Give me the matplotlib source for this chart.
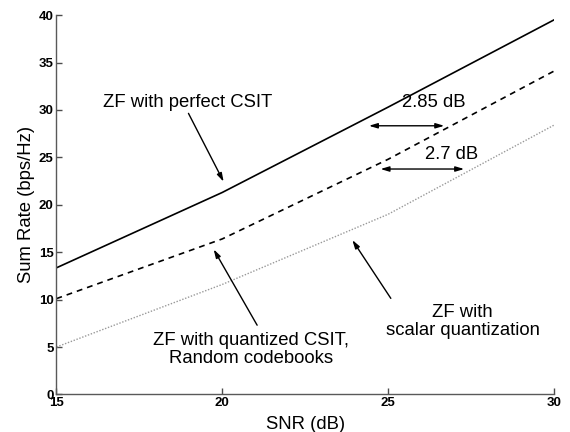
import matplotlib
matplotlib.use("Agg")
import matplotlib.pyplot as plt

# SNR points (dB) and sum rates (bps/Hz)
snr_db = [15, 20, 25, 30]
rate_perfect = [13.35, 21.3, 30.3, 39.5]
rate_random_cb = [10.1, 16.4, 24.8, 34.1]
rate_scalar = [5.0, 11.6, 19.0, 28.4]

x_ticks = [15, 20, 25, 30]
y_ticks = [0, 5, 10, 15, 20, 25, 30, 35, 40]

plt.rcParams["font.family"] = ["Liberation Sans", "DejaVu Sans"]

fig = plt.figure(figsize=(5.7, 4.32), dpi=100)
ax = fig.add_axes([0.099, 0.087, 0.873, 0.878])

ax.plot(snr_db, rate_perfect, color="black", linestyle="-", linewidth=1.2)
ax.plot(snr_db, rate_random_cb, color="black", linestyle=(0, (3.5, 3)), linewidth=1.2)
ax.plot(snr_db, rate_scalar, color="0.6", linestyle=(0, (1, 1.2)), linewidth=1.0)

ax.set_xlim(15, 30)
ax.set_ylim(0, 40)
ax.set_xticks(x_ticks)
ax.set_yticks(y_ticks)
ax.tick_params(direction="in", length=4, width=1, labelsize=9.5, pad=2, color="0.3")
for lbl in ax.get_xticklabels() + ax.get_yticklabels():
    lbl.set_fontweight("bold")

for side in ["top", "right"]:
    ax.spines[side].set_visible(False)
for side in ["left", "bottom"]:
    ax.spines[side].set_color("0.35")
    ax.spines[side].set_linewidth(1.0)

ax.set_xlabel("SNR (dB)", fontsize=13.3, labelpad=5)
ax.set_ylabel("Sum Rate (bps/Hz)", fontsize=13.3, labelpad=3)

fs = 13.3
head = dict(arrowstyle="-|>,head_length=0.5,head_width=0.15", color="black", lw=1.0,
            shrinkA=0, shrinkB=0)
dbl = dict(arrowstyle="<|-|>,head_length=0.5,head_width=0.15", color="black", lw=1.0,
           shrinkA=0, shrinkB=0)

ax.text(16.4, 30.83, "ZF with perfect CSIT", fontsize=fs, ha="left", va="center")
ax.annotate("", xy=(20.04, 22.43), xytext=(18.98, 29.64), arrowprops=head)

ax.text(20.88, 4.7, "ZF with quantized CSIT,\nRandom codebooks", fontsize=fs,
        ha="center", va="center", multialignment="center", linespacing=1.1)
ax.annotate("", xy=(19.74, 15.3), xytext=(21.05, 7.3), arrowprops=head)

ax.text(27.25, 7.7, "ZF with\nscalar quantization", fontsize=fs,
        ha="center", va="center", multialignment="center", linespacing=1.1)
ax.annotate("", xy=(23.92, 16.28), xytext=(25.08, 10.13), arrowprops=head)

ax.annotate("", xy=(24.42, 28.33), xytext=(26.69, 28.33), arrowprops=dbl)
ax.text(26.36, 30.75, "2.85 dB", fontsize=fs, ha="center", va="center")

ax.annotate("", xy=(24.77, 23.77), xytext=(27.29, 23.77), arrowprops=dbl)
ax.text(26.91, 25.3, "2.7 dB", fontsize=fs, ha="center", va="center")

fig.savefig("out.png", dpi=100)
